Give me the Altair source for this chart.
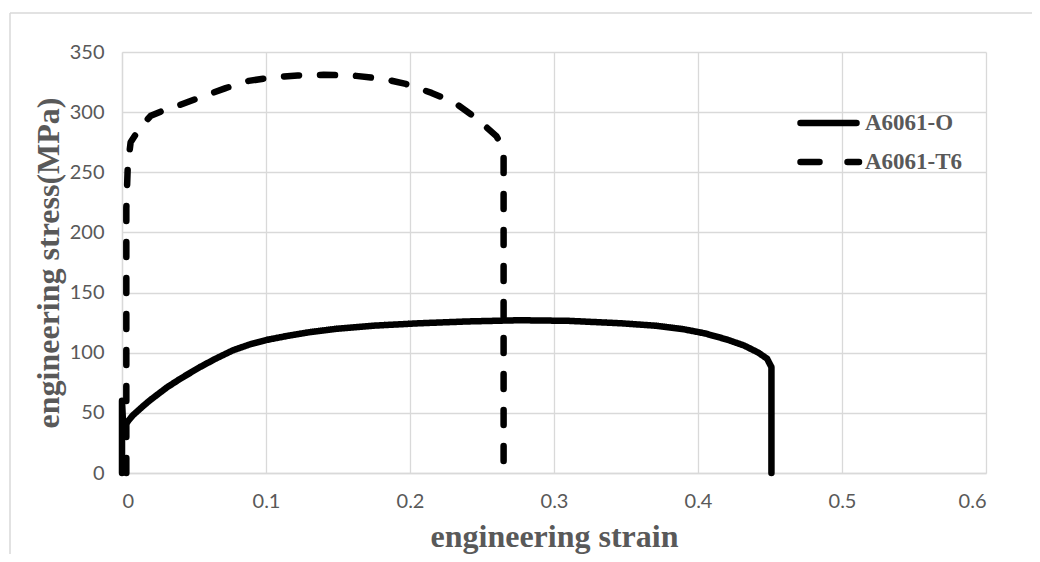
import altair as alt
import pandas as pd

series_names = ["A6061-O", "A6061-T6"]

o_strain = [0, 0, 0.0008, 0.002, 0.0076, 0.015, 0.02, 0.031, 0.04, 0.054, 0.065, 0.077, 0.089, 0.1,
            0.115, 0.13, 0.15, 0.175, 0.207, 0.24, 0.276, 0.31, 0.346, 0.37, 0.39, 0.405, 0.42,
            0.432, 0.442, 0.448, 0.451, 0.451]
o_stress = [0, 60, 40, 40, 48, 56, 61, 71, 78, 88, 95, 102, 107, 110.5,
            114, 117, 120, 122.5, 124.5, 126, 127, 126.5, 124.5, 122.5, 119.5, 116, 111,
            106, 100, 95, 88, 0]

t6_strain = [0.003, 0.003, 0.004, 0.006, 0.013, 0.02, 0.028, 0.038, 0.056, 0.072, 0.088, 0.105, 0.122,
             0.14, 0.16, 0.182, 0.197, 0.215, 0.231, 0.247, 0.26, 0.264, 0.265, 0.265]
t6_stress = [0, 220, 255, 275, 288, 297, 301, 305, 313, 320, 326, 329, 330.5,
             331, 330.5, 327.5, 323.5, 316, 308, 294, 280, 272, 265, 0]

x_ticks = [0, 0.1, 0.2, 0.3, 0.4, 0.5, 0.6]
y_ticks = [0, 50, 100, 150, 200, 250, 300, 350]

rows = []
for name, xs, ys in [(series_names[0], o_strain, o_stress), (series_names[1], t6_strain, t6_stress)]:
    for i, (a, b) in enumerate(zip(xs, ys)):
        rows.append({"series": name, "strain": a, "stress": b, "idx": i})
df = pd.DataFrame(rows)

GRID = "#d9d9d9"
TXT = "#595959"
DASH_MAIN = [15, 21]

lines = alt.Chart(df).mark_line(
    color="black", strokeWidth=6.5, strokeCap="round", strokeJoin="round"
).encode(
    x=alt.X("strain:Q", scale=alt.Scale(domain=[0, 0.6], nice=False),
            axis=alt.Axis(values=x_ticks, format="~g", title="engineering strain",
                          titlePadding=10)),
    y=alt.Y("stress:Q", scale=alt.Scale(domain=[0, 350], nice=False),
            axis=alt.Axis(values=y_ticks, title="engineering stress(MPa)", titlePadding=4)),
    strokeDash=alt.StrokeDash("series:N",
                              scale=alt.Scale(domain=series_names, range=[[1, 0], DASH_MAIN]),
                              legend=None),
    detail="series:N",
    order=alt.Order("idx:Q"),
)

# manual legend
leg_df0 = pd.DataFrame({"series": [series_names[0]]})
leg_df1 = pd.DataFrame({"series": [series_names[1]]})
leg_sym0 = alt.Chart(leg_df0).mark_rule(color="black", strokeWidth=6.5, strokeCap="round").encode(
    x=alt.value(678.5), x2=alt.value(734.5), y=alt.value(71))
leg_sym1 = alt.Chart(leg_df1).mark_rule(color="black", strokeWidth=6.5, strokeCap="round",
                                        strokeDash=[19, 28]).encode(
    x=alt.value(678.5), x2=alt.value(737), y=alt.value(110))
leg_txt0 = alt.Chart(leg_df0).mark_text(align="left", baseline="middle", font="Liberation Serif",
                                        fontWeight="bold", fontSize=23, color=TXT).encode(
    x=alt.value(743), y=alt.value(71), text="series:N")
leg_txt1 = alt.Chart(leg_df1).mark_text(align="left", baseline="middle", font="Liberation Serif",
                                        fontWeight="bold", fontSize=23, color=TXT).encode(
    x=alt.value(743), y=alt.value(110), text="series:N")

# outer chart frame (decoration)
frame_df = pd.DataFrame({"k": [0]})
frame_left = alt.Chart(frame_df).mark_rule(color=GRID, strokeWidth=1.5).encode(
    x=alt.value(-112), y=alt.value(-39), y2=alt.value(700))
frame_top = alt.Chart(frame_df).mark_rule(color=GRID, strokeWidth=1.5).encode(
    x=alt.value(-112), x2=alt.value(1000), y=alt.value(-39))

chart = alt.layer(
    frame_left, frame_top, lines, leg_sym0, leg_sym1, leg_txt0, leg_txt1
).properties(
    width=864, height=421,
    autosize=alt.AutoSizeParams(type="none"),
    padding={"left": 114, "top": 44, "right": 46, "bottom": 81},
    background="white",
).configure_view(
    stroke=None
).configure_axis(
    grid=True, gridColor=GRID, gridWidth=1.3,
    domain=True, domainColor=GRID, domainWidth=1.3,
    ticks=False, labelPadding=18,
    labelFont="Lato", labelFontSize=20, labelColor=TXT,
    titleFont="Liberation Serif", titleFontWeight="bold", titleFontSize=32, titleColor=TXT,
)

chart.save("out.html", embed_options={"renderer": "svg", "actions": False})
